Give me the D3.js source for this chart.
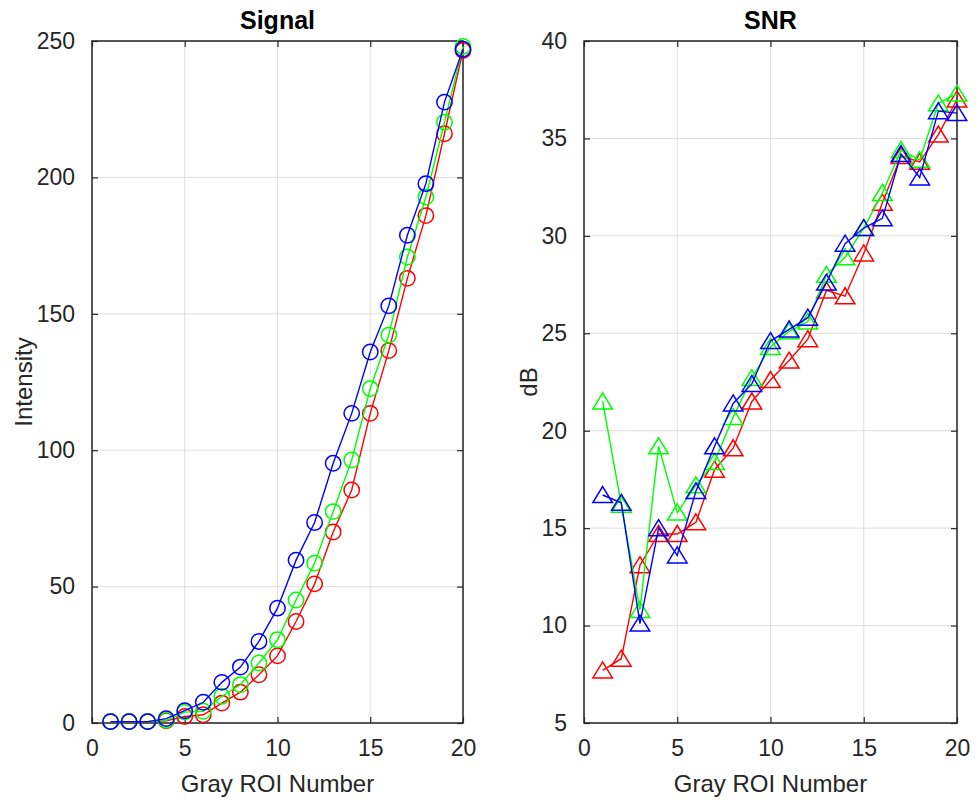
<!DOCTYPE html>
<html>
<head>
<meta charset="utf-8">
<script src="https://cdn.jsdelivr.net/npm/d3@7"></script>
<style>
  html, body { margin: 0; padding: 0; background: #fff; }
  svg { display: block; }
  text { font-family: "Liberation Sans", Arial, Helvetica, sans-serif; }
</style>
</head>
<body>
<svg id="chart" width="976" height="803"></svg>
<script>
// ---- Data ----
const roi = [1,2,3,4,5,6,7,8,9,10,11,12,13,14,15,16,17,18,19,20];

const signalRed   = [0.5,0.5,0.5,0.8,2.4,3.0,7.3,11.3,17.7,24.6,37.2,51.0,70.0,85.4,113.5,136.5,163.0,186.0,216.0,246.5];
const signalGreen = [0.5,0.5,0.5,1.0,4.0,4.3,9.8,14.0,22.0,30.5,45.1,58.6,77.5,96.4,122.6,142.2,170.8,192.8,220.2,248.0];
const signalBlue  = [0.5,0.5,0.5,1.6,4.5,7.6,14.9,20.5,29.9,42.1,59.7,73.5,95.2,113.5,136.0,152.9,178.8,197.7,227.6,247.0];

const snrRed   = [7.7,8.3,13.1,14.7,14.7,15.3,18.0,19.1,21.5,22.6,23.6,24.7,27.2,26.9,29.1,31.7,34.1,33.8,35.2,37.0];
const snrGreen = [21.5,16.2,10.8,19.2,15.8,17.2,18.4,20.7,22.7,24.3,25.1,25.6,28.0,28.9,30.4,32.2,34.4,33.9,36.8,37.3];
const snrBlue  = [16.7,16.3,10.1,15.0,13.6,16.9,19.2,21.4,22.4,24.6,25.2,25.8,27.6,29.6,30.4,30.9,34.2,33.0,36.4,36.3];

const xTicks = [0,5,10,15,20];
const signalTicks = [0,50,100,150,200,250];
const snrTicks = [5,10,15,20,25,30,35,40];

const seriesColors = ["#ff0000", "#00ff00", "#0000ff"];

// ---- Drawing ----
const svg = d3.select("#chart");
const AX = "#262626";

function panel(opts) {
  const x = d3.scaleLinear().domain(opts.xDomain).range([opts.left, opts.right]);
  const y = d3.scaleLinear().domain(opts.yDomain).range([opts.bottom, opts.top]);
  const g = svg.append("g");

  // grid
  g.append("g").selectAll("line.gx").data(opts.xTicks).join("line")
    .attr("x1", d => x(d)).attr("x2", d => x(d))
    .attr("y1", opts.top).attr("y2", opts.bottom)
    .attr("stroke", "#dedede").attr("stroke-width", 1);
  g.append("g").selectAll("line.gy").data(opts.yTicks).join("line")
    .attr("x1", opts.left).attr("x2", opts.right)
    .attr("y1", d => y(d)).attr("y2", d => y(d))
    .attr("stroke", "#dedede").attr("stroke-width", 1);

  // axes with inward ticks (all four sides)
  const tl = 6;
  const bottomAx = g.append("g").attr("transform", `translate(0,${opts.bottom})`)
    .call(d3.axisBottom(x).tickValues(opts.xTicks).tickSizeInner(-tl).tickSizeOuter(0).tickPadding(17));
  const topAx = g.append("g").attr("transform", `translate(0,${opts.top})`)
    .call(d3.axisTop(x).tickValues(opts.xTicks).tickSizeInner(-tl).tickSizeOuter(0).tickFormat(""));
  const leftAx = g.append("g").attr("transform", `translate(${opts.left},0)`)
    .call(d3.axisLeft(y).tickValues(opts.yTicks).tickSizeInner(-tl).tickSizeOuter(0).tickPadding(17));
  const rightAx = g.append("g").attr("transform", `translate(${opts.right},0)`)
    .call(d3.axisRight(y).tickValues(opts.yTicks).tickSizeInner(-tl).tickSizeOuter(0).tickFormat(""));
  [bottomAx, topAx, leftAx, rightAx].forEach(a => {
    a.select(".domain").remove();
    a.selectAll(".tick line").attr("stroke", AX).attr("stroke-width", 1.2);
    a.selectAll(".tick text").attr("fill", AX).style("font-size", "23px");
  });
  bottomAx.selectAll(".tick text").attr("dy", "0.71em");

  // box
  g.append("rect").attr("x", opts.left).attr("y", opts.top)
    .attr("width", opts.right - opts.left).attr("height", opts.bottom - opts.top)
    .attr("fill", "none").attr("stroke", AX).attr("stroke-width", 1.5);

  // series
  const line = d3.line().x((d, i) => x(roi[i])).y(d => y(d));
  opts.series.forEach((vals, k) => {
    const sg = g.append("g");
    sg.append("path").attr("d", line(vals)).attr("fill", "none")
      .attr("stroke", seriesColors[k]).attr("stroke-width", 1.4);
    if (opts.marker === "circle") {
      sg.selectAll("circle").data(vals).join("circle")
        .attr("cx", (d, i) => x(roi[i])).attr("cy", d => y(d)).attr("r", 7.7)
        .attr("fill", "none").attr("stroke", seriesColors[k]).attr("stroke-width", 1.5);
    } else {
      sg.selectAll("path.m").data(vals).join("path").attr("class", "m")
        .attr("transform", (d, i) => `translate(${x(roi[i])},${y(d)})`)
        .attr("d", "M0,-8.5L9.8,7.5L-9.8,7.5Z")
        .attr("fill", "none").attr("stroke", seriesColors[k]).attr("stroke-width", 1.5);
    }
  });

  // title
  g.append("text").attr("x", (opts.left + opts.right) / 2).attr("y", 29)
    .attr("text-anchor", "middle").attr("font-weight", "bold")
    .style("font-size", "25px").attr("fill", "#000").text(opts.title);
  // xlabel
  g.append("text").attr("x", (opts.left + opts.right) / 2).attr("y", 792)
    .attr("text-anchor", "middle").style("font-size", "24px").attr("fill", AX)
    .text("Gray ROI Number");
  // ylabel
  g.append("text").attr("transform", `translate(${opts.ylabelX},${(opts.top + opts.bottom) / 2}) rotate(-90)`)
    .attr("text-anchor", "middle").style("font-size", "24px").attr("fill", AX)
    .text(opts.ylabel);
}

panel({
  left: 92, right: 463, top: 41, bottom: 723,
  xDomain: [0, 20], yDomain: [0, 250],
  xTicks: xTicks, yTicks: signalTicks,
  series: [signalRed, signalGreen, signalBlue],
  marker: "circle", title: "Signal", ylabel: "Intensity", ylabelX: 32
});

panel({
  left: 584, right: 957, top: 41, bottom: 723,
  xDomain: [0, 20], yDomain: [5, 40],
  xTicks: xTicks, yTicks: snrTicks,
  series: [snrRed, snrGreen, snrBlue],
  marker: "triangle", title: "SNR", ylabel: "dB", ylabelX: 537
});
</script>
</body>
</html>
